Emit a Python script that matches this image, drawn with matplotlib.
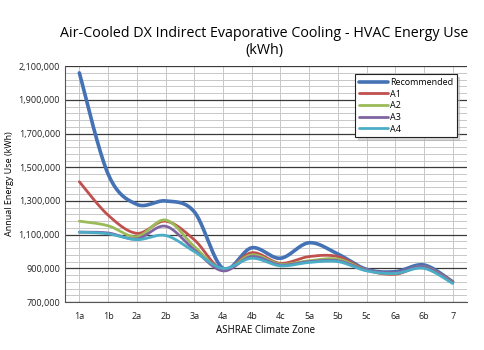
import numpy as np
import matplotlib
matplotlib.use("Agg")
import matplotlib.pyplot as plt
from matplotlib.ticker import FuncFormatter

plt.rcParams['font.family'] = ['Open Sans', 'DejaVu Sans']

zones = ['1a', '1b', '2a', '2b', '3a', '4a', '4b', '4c', '5a', '5b', '5c', '6a', '6b', '7']

recommended = [2060000, 1460000, 1280000, 1300000, 1236000, 900000, 1022000,
               960000, 1052000, 985000, 894000, 880000, 920000, 820000]
a1 = [1414000, 1216000, 1108000, 1180000, 1070000, 890000, 993000,
      930000, 970000, 970000, 890000, 865000, 910000, 820000]
a2 = [1180000, 1153000, 1088000, 1187000, 1030000, 890000, 980000,
      925000, 945000, 955000, 890000, 870000, 910000, 815000]
a3 = [1115000, 1110000, 1075000, 1150000, 1010000, 885000, 970000,
      920000, 940000, 945000, 890000, 875000, 910000, 815000]
a4 = [1115000, 1105000, 1070000, 1095000, 1000000, 900000, 960000,
      915000, 935000, 940000, 885000, 870000, 900000, 810000]

series = [('Recommended', recommended, '#4472B4', 2.6),
          ('A1', a1, '#C0504D', 2.0),
          ('A2', a2, '#9BBB59', 2.0),
          ('A3', a3, '#8064A2', 2.0),
          ('A4', a4, '#4BACC6', 2.0)]


# excel style smoothed line (catmull-rom through the points)
def smooth(x, y, n=20):
    x = np.asarray(x, float)
    y = np.asarray(y, float)
    px = np.concatenate([[x[0]], x, [x[-1]]])
    py = np.concatenate([[y[0]], y, [y[-1]]])
    xs, ys = [], []
    for i in range(1, len(px) - 2):
        t = np.linspace(0, 1, n, endpoint=False)
        for p, out in ((px, xs), (py, ys)):
            p0, p1, p2, p3 = p[i - 1], p[i], p[i + 1], p[i + 2]
            out.extend(0.5 * (2 * p1 + (-p0 + p2) * t
                              + (2 * p0 - 5 * p1 + 4 * p2 - p3) * t ** 2
                              + (-p0 + 3 * p1 - 3 * p2 + p3) * t ** 3))
    xs.append(x[-1])
    ys.append(y[-1])
    return xs, ys


fig = plt.figure(figsize=(4.85, 3.5), dpi=100)
ax = fig.add_axes([0.134, 0.137, 0.829, 0.674])

xpos = np.arange(len(zones))
for name, vals, color, lw in series:
    sx, sy = smooth(xpos, vals)
    ax.plot(sx, sy, color=color, lw=lw, label=name, solid_capstyle='round')

ax.set_xlim(-0.5, 13.5)
ax.set_ylim(700000, 2100000)
ax.set_yticks(np.arange(700000, 2100001, 200000))
ax.set_yticks(np.arange(700000, 2100001, 40000), minor=True)
ax.yaxis.set_major_formatter(FuncFormatter(lambda v, p: f'{int(v):,}'))
ax.set_xticks(xpos)
ax.set_xticklabels(zones)

ax.grid(which='major', axis='y', color='#3a3a3a', lw=0.9)
ax.grid(which='minor', axis='y', color='#c8c8c8', lw=0.7)
ax.grid(which='major', axis='x', color='#c8c8c8', lw=0.7)
ax.set_axisbelow(True)

for s in ['top', 'right']:
    ax.spines[s].set_visible(False)
ax.spines['left'].set_color('#555555')
ax.spines['bottom'].set_color('#555555')
ax.tick_params(axis='both', which='both', length=0, labelsize=6.5, colors='#222222')
ax.tick_params(axis='x', pad=7)

ax.set_xlabel('ASHRAE Climate Zone', fontsize=7, labelpad=3)
ax.set_ylabel('Annual Energy Use (kWh)', fontsize=6.5, labelpad=3)
fig.suptitle('Air-Cooled DX Indirect Evaporative Cooling - HVAC Energy Use\n(kWh)',
             x=0.545, y=0.925, fontsize=10.3, linespacing=1.15)

leg = ax.legend(loc='upper right', bbox_to_anchor=(0.985, 0.985), fontsize=6.5,
                frameon=True, fancybox=False,
                shadow={'ox': 2, 'oy': -2, 'color': '0.7'},
                handlelength=3.2, handletextpad=0.2, labelspacing=0.3, borderpad=0.4)
leg.get_frame().set_edgecolor('#222222')
leg.get_frame().set_linewidth(0.8)

fig.savefig('out.png', dpi=100, facecolor='white')
